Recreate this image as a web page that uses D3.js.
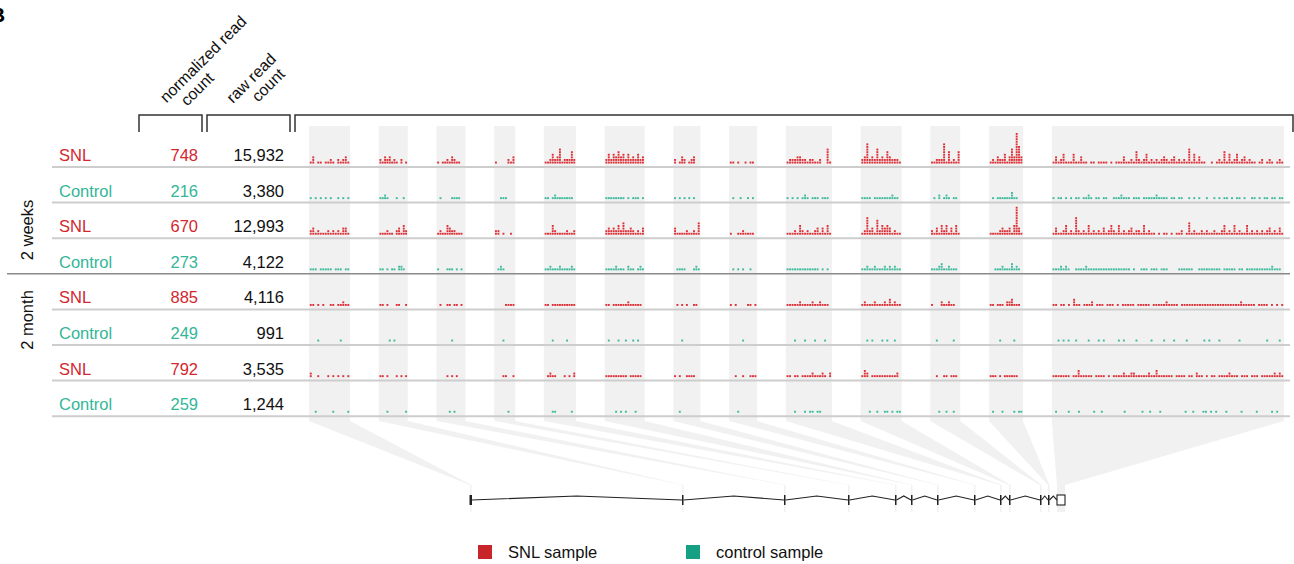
<!DOCTYPE html>
<html>
<head>
<meta charset="utf-8">
<script src="https://cdn.jsdelivr.net/npm/d3@7"></script>
<style>
  body { margin: 0; background: #fff; }
  svg { display: block; font-family: "Liberation Sans", Arial, sans-serif; }
</style>
</head>
<body>
<svg id="chart" width="1294" height="564"></svg>
<script>
// sample rows
const sampleTypes = ["SNL", "Control", "SNL", "Control", "SNL", "Control", "SNL", "Control"];
const timepoints = ["2 weeks", "2 month"];
const normalizedCounts = [748, 216, 670, 273, 885, 249, 792, 259];
const rawCounts = [15932, 3380, 12993, 4122, 4116, 991, 3535, 1244];

// exons: length in bp (panel widths) and position in the gene (kb)
const exonLengths = [123, 87, 87, 63, 96, 120, 81, 84, 138, 123, 90, 102, 696];
const exonStartKb = [0, 21.2, 31.4, 37.8, 42.5, 44.1, 46.7, 50.4, 53.0, 53.9, 57.0, 57.8, 58.7];
const exonEndKb   = [0.15, 21.35, 31.55, 37.95, 42.65, 44.25, 46.85, 50.55, 53.15, 54.05, 57.15, 57.95, 59.5];
const geneLengthKb = 59.5;

// read pileups: one string per exon, each char = stacked reads in a bin (base 36)
const pileups = [
  ["1301101121021231", "213231210201", "101121321100", "10000213", "1124236122252", "2424353424232423",
   "20132012300", "11010010110", "122233221221120061", "2382326232532221", "112228151215", "12132241363c73",
   "1312411141131101101111010111311215212412121232123121216141311001012151412412312110120121012" + "1"],
  ["1010101010010101", "112100010010", "010000111100", "00111000", "1101211111110", "1111111101011101",
   "10101010100", "01001001010", "101010121011101110", "1111011111112110", "010201210110", "01011111131100",
   "10110101011011210110110011121110111011111211110110110010101001001010110101101001101011011011"],
  ["2312111212121331", "111211023142", "121143221110", "22010010", "1114211112112", "2323242522321213",
   "31111211215", "10011211110", "111214212112313141", "1272316243431211", "213142413141", "11112322314b31",
   "13112412172121412121312421412123122141211010110101120151211212112112412141211412121212312131"],
  ["1110111110111011", "110101102210", "100011101010", "01210000", "1121112111121", "1111211102110121",
   "01111000121", "01010100100", "111111111111101010", "1121121112121211", "111231121110", "00111211131210",
   "11121210011112111111111111111110100111011101110000111111001111111110111110110111111111121110"],
  ["1101010011011211", "110100011001", "010011011010", "00001111", "1101111111111", "1101111112111110",
   "01010100110", "10100001101", "111112111121121110", "1211121112131211", "100021121100", "11011102231110",
   "11011010311011120111011101011111011111011111211110111111111111111111111112111110111101010" + "1"],
  ["0001000000001000", "000010100000", "000000100000", "00010000", "0001000001000", "0100010010010100",
   "00010000000", "00000100000", "000100010001000100", "0010100010100100", "001000000100", "00001000001000",
   "00101010010000100010100000101000010000010000100010000100000010100010000000100000000001000010"],
  ["2001000101010101", "110100010101", "000010101000", "00011001", "0121100010102", "1111111110111110",
   "10100111100", "00100100111", "110110111121112102", "1320111111111120", "001001101110", "11101011111100",
   "11111110113111110111101011112112211111211311111101111011021101011011112111011101110111112121"],
  ["0010000001000001", "000100000001", "000001010000", "00000100", "0001100000010", "0000101010001000",
   "00100000000", "00010000000", "000100010110110000", "0001001001101011", "000100100100", "01000100001011",
   "01000010001000001001000000001000000100100010000000001001000110101000100000100000100000101" + "00"]
];

const legendLabels = ["SNL sample", "control sample"];

// colours
const textRed = "#d3262d", textTeal = "#33b698";
const dotRed = "#dc2f36", dotTeal = "#3ab99b";
const keyRed = "#c8252b", keyTeal = "#16a083";
const panelGrey = "#efefef";

const svg = d3.select("#chart");

// layout
const panelTop = 126, panelBottom = 421, fanBottom = 485, stemBottom = 512;
const lineY = d3.scaleLinear().domain([0, 1]).range([167, 202.6]);
const gapUnits = 86;

let acc = 0;
const exonSpan = exonLengths.map((len, i) => {
  const s = acc;
  acc += len + (i < exonLengths.length - 1 ? gapUnits : 0);
  return [s, s + len];
});
const xPanel = d3.scaleLinear().domain([0, acc]).range([309, 1284]);
const geneX = d3.scaleLinear().domain([0, geneLengthKb]).range([470, 1065]);

// grey exon columns + fans down to the gene model
const fanG = svg.append("g");
exonSpan.forEach((sp, i) => {
  const L = xPanel(sp[0]), R = xPanel(sp[1]);
  const gl = geneX(exonStartKb[i]), gr = Math.max(geneX(exonEndKb[i]), gl + 1.5);
  const pts = [[L, panelTop], [R, panelTop], [R, panelBottom], [gr, fanBottom], [gr, stemBottom],
               [gl, stemBottom], [gl, fanBottom], [L, panelBottom]];
  fanG.append("path")
    .attr("d", d3.line()(pts) + "Z")
    .attr("fill", panelGrey)
    .attr("fill-opacity", 0.85);
});

// row separator lines
const lines = svg.append("g");
sampleTypes.forEach((t, r) => {
  lines.append("line")
    .attr("x1", r === 3 ? 7 : 52).attr("x2", 1290)
    .attr("y1", lineY(r)).attr("y2", lineY(r))
    .attr("stroke", r === 3 ? "#8a8a8a" : "#cdcdcd")
    .attr("stroke-width", r === 3 ? 1.6 : 2);
});

// read dots
const dotStep = 2.6, dotSize = 1.9;
const dotG = svg.append("g");
pileups.forEach((row, r) => {
  const base = lineY(r) - 3.5;
  const yStack = d3.scaleLinear().domain([0, 12]).range([base, base - 12 * dotStep]);
  const color = sampleTypes[r] === "SNL" ? dotRed : dotTeal;
  row.forEach((s, e) => {
    const [a, b] = exonSpan[e];
    const bx = d3.scaleLinear().domain([0, s.length]).range([xPanel(a) + 0.5, xPanel(b) - 0.5]);
    const bw = bx(1) - bx(0);
    const dots = [];
    s.split("").forEach((ch, i) => {
      const h = parseInt(ch, 36);
      for (let k = 0; k < h; k++) dots.push({ i, k });
    });
    dotG.selectAll(null).data(dots).join("rect")
      .attr("x", d => bx(d.i) + (bw - dotSize) / 2)
      .attr("y", d => yStack(d.k) - dotSize)
      .attr("width", dotSize)
      .attr("height", dotSize)
      .attr("fill", color);
  });
});

// row labels and counts
const fmt = d3.format(",");
const labG = svg.append("g").style("font-size", "16.5px");
sampleTypes.forEach((t, r) => {
  const y = lineY(r) - 6;
  const c = t === "SNL" ? textRed : textTeal;
  labG.append("text").attr("x", 59).attr("y", y).attr("fill", c).text(t);
  labG.append("text").attr("x", 198).attr("y", y).attr("fill", c)
    .attr("text-anchor", "end").text(normalizedCounts[r]);
  labG.append("text").attr("x", 284).attr("y", y).attr("fill", "#111")
    .attr("text-anchor", "end").text(fmt(rawCounts[r]));
});

// timepoint labels
[[33, 230], [33, 320]].forEach((p, i) => {
  labG.append("text")
    .attr("transform", `translate(${p[0]},${p[1]}) rotate(-90)`)
    .attr("text-anchor", "middle")
    .attr("fill", "#111")
    .text(timepoints[i]);
});

// header brackets
const brackets = [[139, 202], [207, 290], [295, 1293]];
const brG = svg.append("g").attr("fill", "none").attr("stroke", "#333").attr("stroke-width", 1.5);
brackets.forEach(b => {
  brG.append("path").attr("d", `M${b[0]},132V115H${b[1]}V132`);
});

// rotated column headers
const headers = [
  { text: "normalized read", x: 207, y: 63 },
  { text: "count", x: 201, y: 93 },
  { text: "raw read", x: 255, y: 82 },
  { text: "count", x: 272, y: 89 }
];
svg.append("g").style("font-size", "16px").selectAll("text").data(headers).join("text")
  .attr("transform", d => `translate(${d.x},${d.y}) rotate(-45)`)
  .attr("text-anchor", "middle")
  .attr("fill", "#111")
  .text(d => d.text);

// panel letter
svg.append("text").attr("x", -10).attr("y", 22)
  .style("font-size", "21px").style("font-weight", "bold").attr("fill", "#000").text("B");

// gene model
const geneY = 500;
const geneG = svg.append("g").attr("stroke", "#222").attr("fill", "none");
for (let i = 0; i < exonStartKb.length - 1; i++) {
  const x1 = geneX(exonEndKb[i]), x2 = geneX(exonStartKb[i + 1]);
  geneG.append("path")
    .attr("d", `M${x1},${geneY}L${(x1 + x2) / 2},${geneY - 4}L${x2},${geneY}`)
    .attr("stroke-width", 1.1);
}
exonStartKb.forEach((s, i) => {
  if (i === exonStartKb.length - 1) {
    geneG.append("rect")
      .attr("x", geneX(s)).attr("y", geneY - 5)
      .attr("width", geneX(exonEndKb[i]) - geneX(s)).attr("height", 10)
      .attr("fill", "#fff").attr("stroke-width", 1.1);
  } else {
    const xm = (geneX(s) + geneX(exonEndKb[i])) / 2;
    geneG.append("line")
      .attr("x1", xm).attr("x2", xm)
      .attr("y1", geneY - 5).attr("y2", geneY + 5)
      .attr("stroke-width", i === 0 ? 2.5 : 1.5);
  }
});

// legend
const legX = [478, 686];
const legG = svg.append("g").style("font-size", "16.5px");
legendLabels.forEach((l, i) => {
  legG.append("rect").attr("x", legX[i]).attr("y", 545).attr("width", 14).attr("height", 14)
    .attr("fill", i === 0 ? keyRed : keyTeal);
  legG.append("text").attr("x", legX[i] + 30).attr("y", 558).attr("fill", "#111").text(l);
});
</script>
</body>
</html>
